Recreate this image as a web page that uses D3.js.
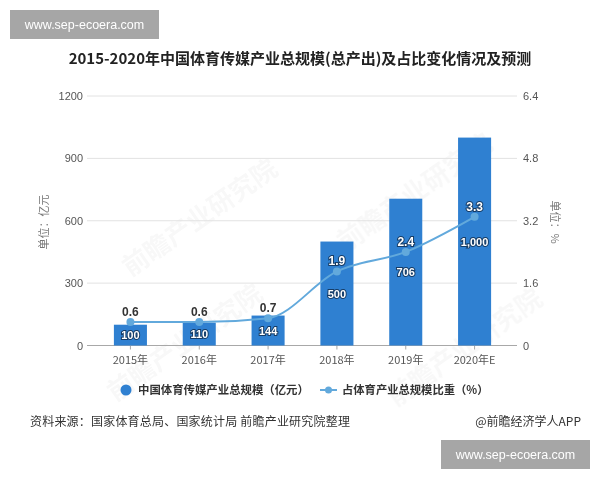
<!DOCTYPE html>
<html><head><meta charset="utf-8">
<script src="https://cdn.jsdelivr.net/npm/d3@7/dist/d3.min.js"></script>
<style>
html,body{margin:0;padding:0;background:#fff;}
svg{display:block;font-family:"Noto Sans CJK SC","Noto Sans",sans-serif;}
</style></head>
<body><svg id="c" width="600" height="480"></svg>
<script>
const categories = ["2015年","2016年","2017年","2018年","2019年","2020年E"];
const scaleValues = [100,110,144,500,706,1000];
const shareValues = [0.6,0.6,0.7,1.9,2.4,3.3];
const leftTicks = [0,300,600,900,1200];
const rightTicks = [0,1.6,3.2,4.8,6.4];
const titleText = "2015-2020年中国体育传媒产业总规模(总产出)及占比变化情况及预测";
const legendLabels = ["中国体育传媒产业总规模（亿元）","占体育产业总规模比重（%）"];
const sourceText = "资料来源：国家体育总局、国家统计局 前瞻产业研究院整理";
const creditText = "@前瞻经济学人APP";
const watermarkText = "www.sep-ecoera.com";

const svg = d3.select("#c");
const barColor = "#2f80d1", lineColor = "#62a9dc";
const plotL = 87, plotR = 517, yTop = 96, yBot = 345.5;

const x = d3.scaleBand().domain(categories).range([96,509]).paddingInner(0.52).paddingOuter(0.26);
const yL = d3.scaleLinear().domain([0,1200]).range([yBot,yTop]);
const yR = d3.scaleLinear().domain([0,6.4]).range([yBot,yTop]);

// faint background watermarks
const wm = svg.append("g").attr("fill","#000").attr("opacity",0.03).attr("font-size",26).attr("font-weight","bold");
[[205,225],[420,200],[190,350],[470,355]].forEach(p=>{
  wm.append("text").attr("transform",`translate(${p[0]},${p[1]}) rotate(-35)`).attr("text-anchor","middle").text("前瞻产业研究院");
});

// title
svg.append("text").attr("x",300).attr("y",64).attr("text-anchor","middle")
  .attr("font-size",15).attr("font-weight","bold").attr("fill","#222").text(titleText);

// gridlines
svg.append("g").selectAll("line").data(leftTicks).join("line")
  .attr("x1",plotL).attr("x2",plotR).attr("y1",d=>yL(d)).attr("y2",d=>yL(d))
  .attr("stroke",d=>d===0?"#a8a8a8":"#e2e2e2").attr("stroke-width",1);

// left axis labels
svg.append("g").selectAll("text").data(leftTicks).join("text")
  .attr("x",83).attr("y",d=>yL(d)+4).attr("text-anchor","end")
  .attr("font-size",11).attr("fill","#555").attr("font-family","Liberation Sans, Arial, sans-serif").text(d=>d);

// right axis labels
svg.append("g").selectAll("text").data(rightTicks).join("text")
  .attr("x",523).attr("y",d=>yR(d)+4).attr("text-anchor","start")
  .attr("font-size",11).attr("fill","#555").attr("font-family","Liberation Sans, Arial, sans-serif").text(d=>d);

// axis titles
svg.append("text").attr("transform","translate(48,222) rotate(-90)").attr("text-anchor","middle")
  .attr("font-size",11).attr("fill","#777").text("单位：亿元");
svg.append("text").attr("transform","translate(551,222) rotate(90)").attr("text-anchor","middle")
  .attr("font-size",11).attr("fill","#777").text("单位：%");

// x ticks and labels
svg.append("g").selectAll("line").data(categories).join("line")
  .attr("x1",d=>x(d)+x.bandwidth()/2).attr("x2",d=>x(d)+x.bandwidth()/2)
  .attr("y1",yBot).attr("y2",yBot+4).attr("stroke","#a8a8a8");
svg.append("g").selectAll("text").data(categories).join("text")
  .attr("x",d=>x(d)+x.bandwidth()/2).attr("y",yBot+18).attr("text-anchor","middle")
  .attr("font-size",11).attr("fill","#555").text(d=>d);

// bars
svg.append("g").selectAll("rect").data(scaleValues).join("rect")
  .attr("x",(d,i)=>x(categories[i])).attr("width",x.bandwidth())
  .attr("y",d=>yL(d)).attr("height",d=>yBot-yL(d)).attr("fill",barColor);

// bar labels
const fmt = d3.format(",");
svg.append("g").selectAll("text").data(scaleValues).join("text")
  .attr("x",(d,i)=>x(categories[i])+x.bandwidth()/2)
  .attr("y",d=>(yL(d)+yBot)/2+4).attr("text-anchor","middle")
  .attr("font-size",11).attr("font-weight","bold").attr("font-family","Liberation Sans, Arial, sans-serif")
  .attr("fill","#fff").attr("stroke","#163c66").attr("stroke-width",2).attr("paint-order","stroke")
  .text(d=>fmt(d));

// line
const pts = shareValues.map((v,i)=>[x(categories[i])+x.bandwidth()/2, yR(v)]);
svg.append("path").attr("d",d3.line().curve(d3.curveMonotoneX)(pts))
  .attr("fill","none").attr("stroke",lineColor).attr("stroke-width",2);
svg.append("g").selectAll("circle").data(pts).join("circle")
  .attr("cx",d=>d[0]).attr("cy",d=>d[1]).attr("r",4).attr("fill",lineColor);

// line labels
svg.append("g").selectAll("text").data(shareValues).join("text")
  .attr("x",(d,i)=>pts[i][0]).attr("y",(d,i)=>pts[i][1]-6).attr("text-anchor","middle")
  .attr("font-size",12).attr("font-weight","bold").attr("font-family","Liberation Sans, Arial, sans-serif")
  .each(function(d,i){
    const inside = pts[i][1]-11 > yL(scaleValues[i]);
    const s = d3.select(this);
    if(inside){ s.attr("fill","#fff").attr("stroke","#163c66").attr("stroke-width",2).attr("paint-order","stroke"); }
    else { s.attr("fill","#333").attr("stroke","#fff").attr("stroke-width",2).attr("paint-order","stroke"); }
  })
  .text(d=>d);

// legend
const lg = svg.append("g");
lg.append("circle").attr("cx",126).attr("cy",390).attr("r",5.5).attr("fill",barColor);
lg.append("text").attr("x",138).attr("y",394).attr("font-size",11.4).attr("font-weight","bold").attr("fill","#333").text(legendLabels[0]);
lg.append("line").attr("x1",320).attr("x2",337).attr("y1",390).attr("y2",390).attr("stroke",lineColor).attr("stroke-width",2);
lg.append("circle").attr("cx",328.5).attr("cy",390).attr("r",3.5).attr("fill",lineColor);
lg.append("text").attr("x",342).attr("y",394).attr("font-size",11.3).attr("font-weight","bold").attr("fill","#333").text(legendLabels[1]);

// source and credit
svg.append("text").attr("x",30).attr("y",426).attr("font-size",12).attr("letter-spacing",0.2).attr("fill","#333").text(sourceText);
svg.append("text").attr("x",581).attr("y",426).attr("text-anchor","end").attr("font-size",12).attr("fill","#333").text(creditText);

// watermark boxes
[[10,10],[441,440]].forEach(p=>{
  svg.append("rect").attr("x",p[0]).attr("y",p[1]).attr("width",149).attr("height",29).attr("fill","#a6a6a6");
  svg.append("text").attr("x",p[0]+74.5).attr("y",p[1]+19).attr("text-anchor","middle")
    .attr("font-size",12.5).attr("fill","#fff").attr("font-family","Liberation Sans, Arial, sans-serif").text(watermarkText);
});
</script></body></html>
